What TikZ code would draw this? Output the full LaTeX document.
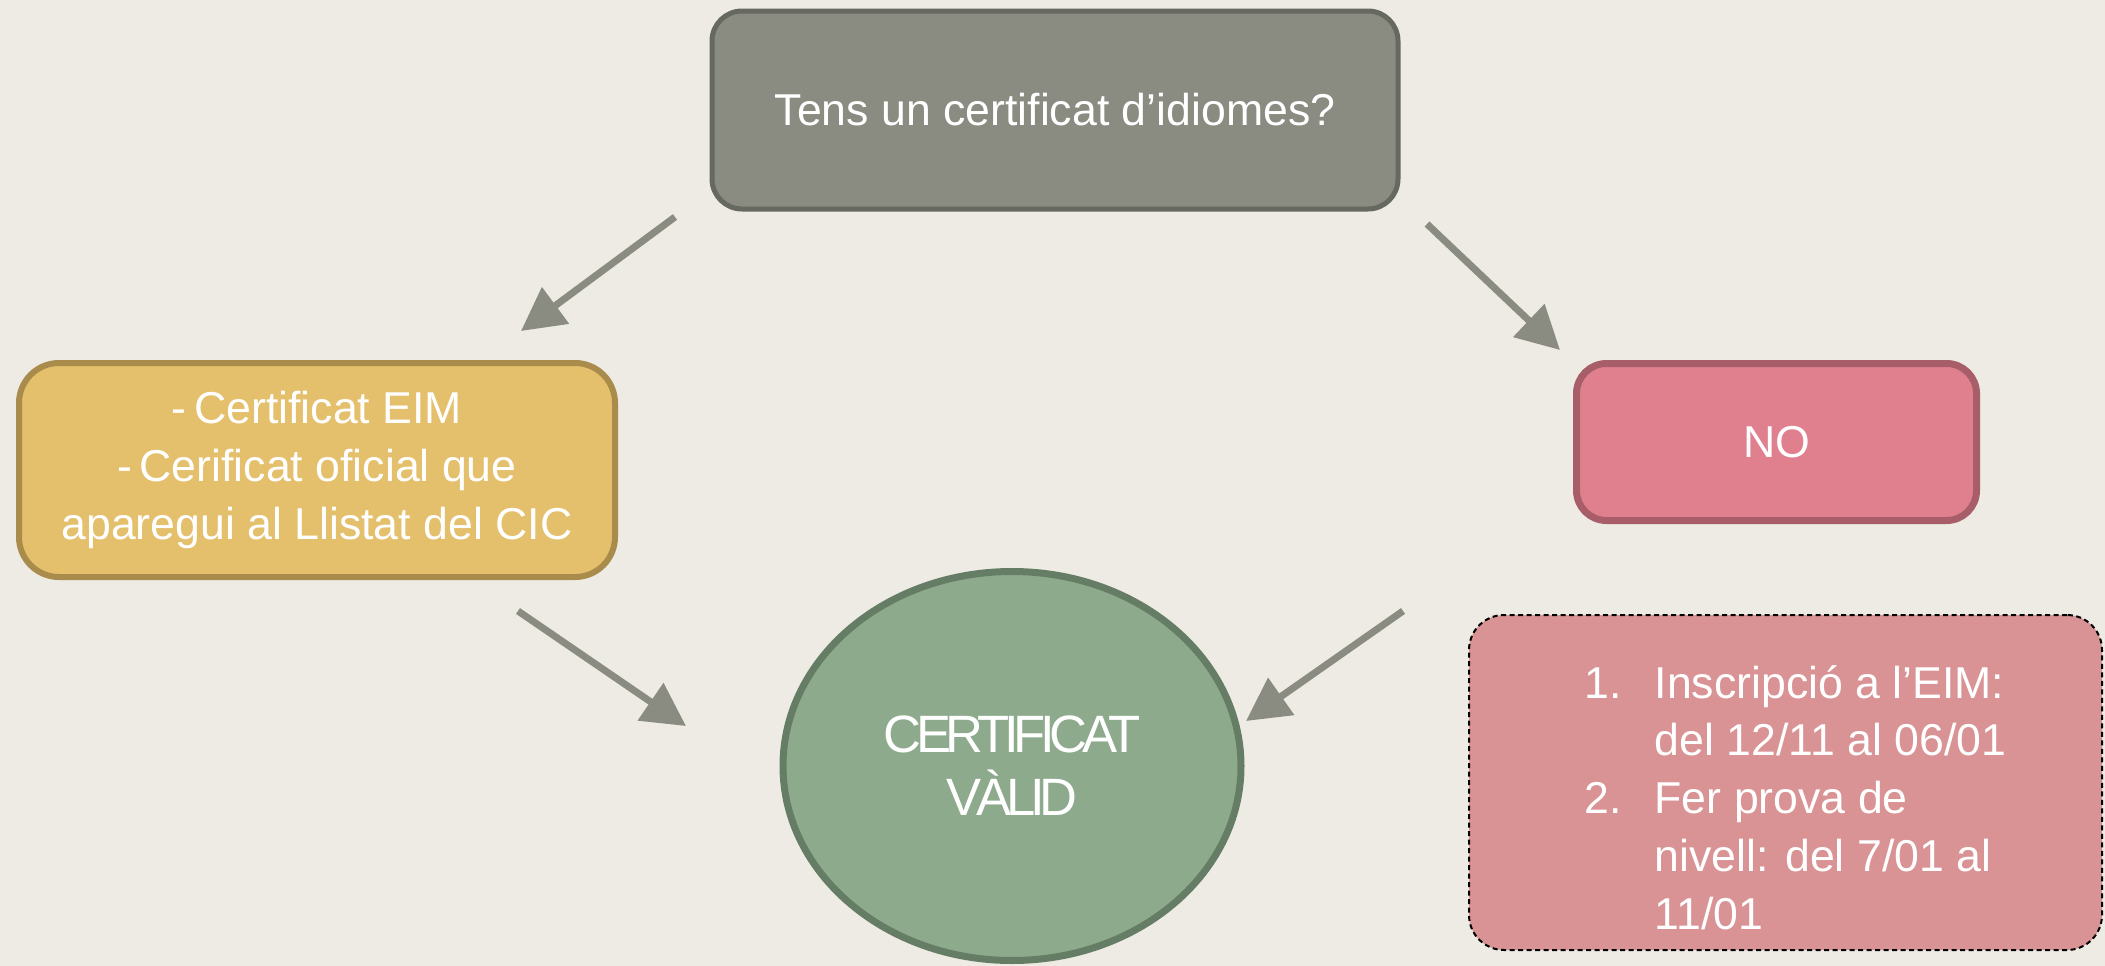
\documentclass[tikz,border=0pt]{standalone}
\usepackage{fontspec}
\setmainfont{Liberation Sans}
\usetikzlibrary{arrows.meta,shapes.geometric}
\definecolor{bg}{HTML}{EDEBE3}
\definecolor{qfill}{HTML}{8A8B81}
\definecolor{qline}{HTML}{666960}
\definecolor{yfill}{HTML}{E5C06C}
\definecolor{yline}{HTML}{A98B4C}
\definecolor{nfill}{HTML}{E0808F}
\definecolor{nline}{HTML}{A85E69}
\definecolor{sfill}{HTML}{D99394}
\definecolor{vfill}{HTML}{8DAA8D}
\definecolor{vline}{HTML}{667D65}
\definecolor{arrowc}{HTML}{8A8B81}
\newcommand{\txtfont}{\fontsize{12.7pt}{16.5pt}\selectfont}
\newcommand{\validfont}{\fontsize{14.95pt}{17.9pt}\selectfont\addfontfeatures{LetterSpace=-10}}
\begin{document}
\begin{tikzpicture}[x=0.1mm,y=-0.1mm,
  box/.style={rectangle, rounded corners=3mm, draw, text=white, font=\txtfont, align=center, inner sep=0pt},
  arr/.style={draw=arrowc, line width=0.7mm, -{Triangle[length=4.3mm,width=4.4mm]}}]
\fill[bg] (0,0) rectangle (2105,966);
\useasboundingbox (0,0) rectangle (2105,966);

\node[box, fill=qfill, draw=qline, line width=0.5mm, minimum width=68.6mm, minimum height=19.8mm] (q) at (1055,110) {Tens un certificat d’idiomes?};
\node[box, fill=yfill, draw=yline, line width=0.6mm, minimum width=59.6mm, minimum height=21.4mm, rounded corners=4mm] (yes) at (317,470) {-\,Certificat EIM\\-\,Cerificat oficial que\\aparegui al Llistat del CIC};
\node[box, fill=nfill, draw=nline, line width=0.7mm, minimum width=40mm, minimum height=15.7mm] (no) at (1776.5,442) {NO};
\node[box, fill=sfill, draw=black, line width=0.2mm, dash pattern=on 0.5mm off 0.35mm, minimum width=63.3mm, minimum height=33.5mm, rounded corners=3.5mm] (steps) at (1785.5,782.5) {};
\node[anchor=base west, text=white, font=\txtfont, inner sep=0pt] (stepstext) at (1584,698) {\begin{tabular}[t]{@{}l@{}l@{}}\makebox[7mm][l]{1.}&Inscripció a l’EIM:\\ &del 12/11 al 06/01\\\makebox[7mm][l]{2.}&Fer prova de\\ &nivell: del 7/01 al\\ &11/01\end{tabular}};
\node[ellipse, fill=vfill, draw=vline, line width=0.7mm, minimum width=45.8mm, minimum height=38.9mm, text=white, align=center, inner sep=0pt, font=\validfont] (valid) at (1012,766) {CERTIFICAT\\VÀLID};

\coordinate (a1s) at (675,217);
\coordinate (a1e) at (521,331);
\coordinate (a2s) at (1427,224);
\coordinate (a2e) at (1560,350);
\coordinate (a3s) at (518,611);
\coordinate (a3e) at (686,726);
\coordinate (a4s) at (1403,611);
\coordinate (a4e) at (1246,721);
\draw[arr] (a1s) -- (a1e);
\draw[arr] (a2s) -- (a2e);
\draw[arr] (a3s) -- (a3e);
\draw[arr] (a4s) -- (a4e);
\end{tikzpicture}
\end{document}
